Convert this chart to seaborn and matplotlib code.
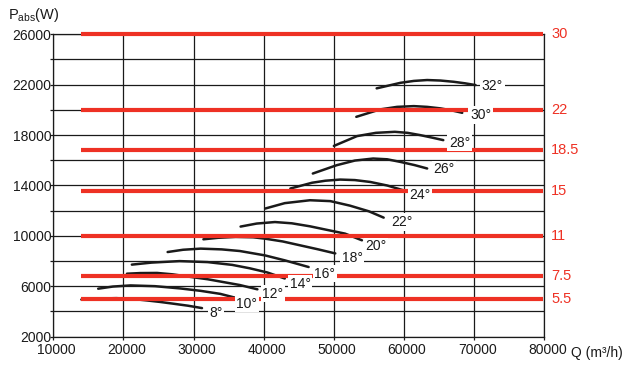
import pandas as pd
import matplotlib.pyplot as plt
import matplotlib.transforms as mtransforms
import seaborn as sns

# Blade angle curves: air flow Q (m3/h) vs absorbed power (W)
angles = [8, 10, 12, 14, 16, 18, 20, 22, 24, 26, 28, 30, 32]
q_8 = [14000, 16500, 19000, 21200, 23300, 25200, 27100, 29200, 31200]
p_8 = [4950, 5030, 5060, 5000, 4880, 4760, 4620, 4460, 4270]
q_10 = [16400, 18500, 21000, 24500, 28100, 31000, 33800, 35900]
p_10 = [5810, 5980, 6070, 6010, 5830, 5640, 5400, 5100]
q_12 = [20500, 22400, 24800, 27000, 29500, 32000, 34300, 36600, 39100]
p_12 = [7000, 7050, 7060, 6950, 6750, 6560, 6330, 6100, 5760]
q_14 = [21200, 24000, 28000, 32000, 35500, 38000, 40500, 43000]
p_14 = [7720, 7880, 8000, 7920, 7700, 7430, 7100, 6620]
q_16 = [26300, 28500, 31000, 34000, 36600, 40200, 43000, 46400]
p_16 = [8720, 8900, 8990, 8930, 8800, 8450, 8060, 7530]
q_18 = [31400, 33500, 36000, 38500, 40200, 42700, 45200, 47700, 50200]
p_18 = [9730, 9850, 9920, 9890, 9780, 9560, 9250, 8940, 8610]
q_20 = [36700, 39000, 41600, 44000, 46600, 49000, 51600, 54000]
p_20 = [10740, 10980, 11100, 11000, 10760, 10480, 10180, 9650]
q_22 = [40200, 43000, 46600, 49500, 52300, 55000, 57100]
p_22 = [12170, 12600, 12830, 12760, 12400, 11950, 11450]
q_24 = [43800, 46900, 48800, 50900, 53000, 55200, 57600, 59900]
p_24 = [13760, 14220, 14380, 14470, 14430, 14280, 14000, 13620]
q_26 = [47000, 50400, 53000, 55600, 57600, 59500, 61500, 63300]
p_26 = [14950, 15610, 15980, 16140, 16080, 15870, 15620, 15350]
q_28 = [50000, 53300, 56000, 58700, 60500, 62300, 64000, 65600]
p_28 = [17140, 17920, 18180, 18260, 18180, 18000, 17800, 17600]
q_30 = [53200, 56600, 59000, 61400, 63300, 65200, 66800, 68300]
p_30 = [19450, 20040, 20240, 20300, 20240, 20120, 19960, 19770]
q_32 = [56100, 59500, 61400, 63300, 65200, 67100, 68700, 70200]
p_32 = [21710, 22150, 22300, 22370, 22330, 22230, 22110, 21970]

# where the angle labels sit
label_q = [33200, 37600, 41300, 45200, 48700, 52600, 56000, 59700, 62300, 65700, 67900, 70900, 72600]
label_p = [3870, 4620, 5410, 6200, 7000, 8240, 9170, 11100, 13220, 15290, 17410, 19590, 21890]

# motor power levels (kW) drawn as red lines
motor_kw = ["30", "22", "18.5", "15", "11", "7.5", "5.5"]
motor_p = [26000, 20000, 16800, 13600, 10000, 6800, 5000]
line_q_start = 14000
line_q_end = 79800

q_lists = [q_8, q_10, q_12, q_14, q_16, q_18, q_20, q_22, q_24, q_26, q_28, q_30, q_32]
p_lists = [p_8, p_10, p_12, p_14, p_16, p_18, p_20, p_22, p_24, p_26, p_28, p_30, p_32]
frames = []
for a, q, p in zip(angles, q_lists, p_lists):
    frames.append(pd.DataFrame({"Q": q, "P": p, "angle": a}))
curves = pd.concat(frames, ignore_index=True)

sns.set_style("white")
plt.rcParams["font.family"] = ["Liberation Sans", "DejaVu Sans"]
plt.rcParams["mathtext.fontset"] = "custom"
plt.rcParams["mathtext.rm"] = "Liberation Sans"

ink = "#1a1a1a"
red = "#ee3124"

fig = plt.figure(figsize=(6.39, 3.70), dpi=100)
ax = fig.add_axes([0.0834, 0.09, 0.7684, 0.8173])

sns.lineplot(data=curves, x="Q", y="P", units="angle", estimator=None, sort=False,
             color=ink, lw=1.8, legend=False, ax=ax, zorder=3)

ax.hlines(motor_p, line_q_start, line_q_end, color=red, lw=3, zorder=4, clip_on=False)

for a, q, p in zip(angles, label_q, label_p):
    ax.text(q, p, f"{a}°", ha="center", va="center", fontsize=10, color=ink, zorder=5,
            bbox=dict(boxstyle="square,pad=0.12", fc="white", ec="none"))

for kw, p in zip(motor_kw, motor_p):
    ax.annotate(kw, xy=(1, p), xycoords=ax.get_yaxis_transform(), xytext=(7, 0),
                textcoords="offset pixels", color=red, ha="left", va="center", fontsize=10.5)

ax.set_xlim(10000, 80000)
ax.set_ylim(2000, 26000)
ax.set_xticks(range(10000, 80001, 10000))
ax.set_yticks(range(2000, 26001, 4000))
ax.set_yticks(range(4000, 26000, 4000), minor=True)
ax.set_axisbelow(True)
ax.grid(True, which="both", axis="y", color=ink, lw=0.9)
ax.grid(True, which="major", axis="x", color=ink, lw=0.9)
ax.tick_params(axis="both", which="both", direction="out", length=2.4, width=0.9,
               color=ink, labelsize=10, labelcolor=ink, left=True, bottom=True)
ax.tick_params(axis="y", pad=-1)
ax.tick_params(axis="x", pad=2)
for s in ax.spines.values():
    s.set_color(ink)
    s.set_linewidth(0.9)
ax.set_xlabel("")
ax.set_ylabel("")

shift = mtransforms.ScaledTranslation(3 / 100, 0, fig.dpi_scale_trans)
for lab in ax.get_xticklabels():
    lab.set_transform(lab.get_transform() + shift)

fig.text(8 / 639, 1 - 15 / 370, r"$\mathregular{P_{abs}}$(W)", fontsize=10.5, color=ink, va="center")
ax.annotate("Q (m³/h)", xy=(1, 0), xycoords="axes fraction", xytext=(27, -16),
            textcoords="offset pixels", ha="left", va="center", fontsize=10, color=ink)

fig.savefig("out.png", dpi=100)
